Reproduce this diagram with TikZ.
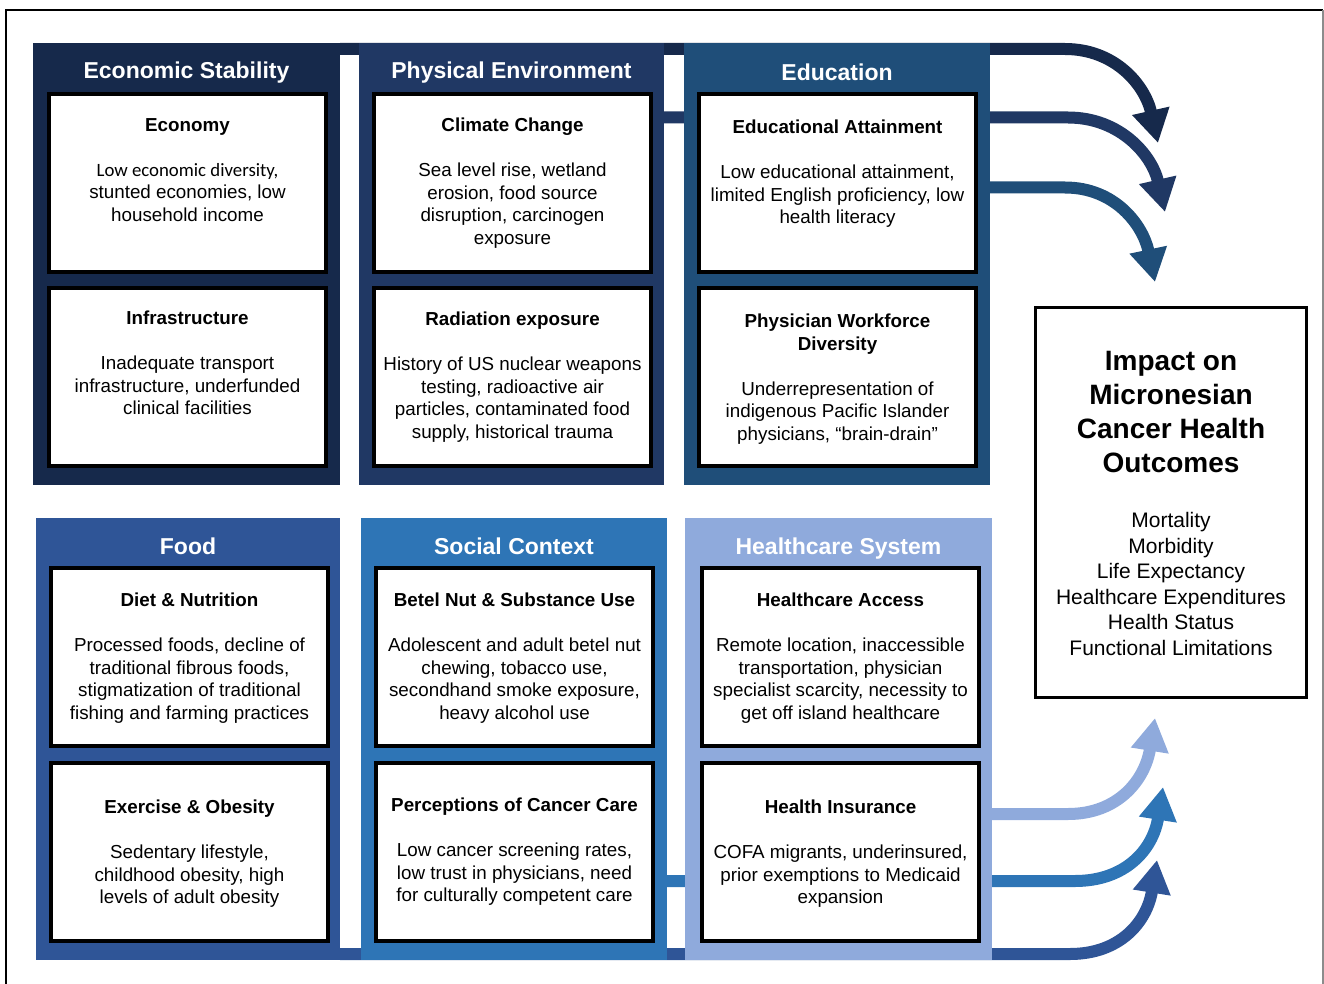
\documentclass[tikz,border=0pt]{standalone}
\usepackage{fontspec}
\setmainfont{Liberation Sans}
\newfontfamily\calib{Carlito}
\usetikzlibrary{arrows.meta,backgrounds}

\definecolor{cEcon}{HTML}{16294B}
\definecolor{cPhys}{HTML}{203864}
\definecolor{cEdu}{HTML}{1F4E79}
\definecolor{cFood}{HTML}{2F5597}
\definecolor{cSoc}{HTML}{2E75B6}
\definecolor{cHC}{HTML}{8FAADC}

\begin{document}
\begin{tikzpicture}[x=1pt,y=-1pt,
  panel/.style={anchor=north west, inner sep=0pt, outer sep=0pt, draw=none,
                minimum width=307pt, minimum height=442pt},
  inbox/.style={anchor=north west, draw=black, line width=4pt, fill=white,
                inner sep=0pt, outer sep=0pt, minimum width=277pt, minimum height=178pt},
  ptitle/.style={anchor=north, inner sep=0pt, text=white,
                 font=\fontsize{23}{27}\selectfont\bfseries},
  txt/.style={anchor=north, inner sep=0pt, align=center,
              font=\fontsize{18.8}{22.5}\selectfont},
  bar/.style={line width=12pt, -{Triangle[width=36pt,length=33pt]}},
  frame/.style={line width=2.2pt, black}
]
\useasboundingbox (0,0) rectangle (1324,984);

% outer frame
\coordinate (fbl) at (6,984);
\coordinate (ftl) at (6,10);
\coordinate (ftr) at (1323,10);
\coordinate (fbr) at (1323,984);
\draw[frame] (fbl) -- (ftl) -- (ftr);
\draw[line width=1.5pt, black!45] (ftr) -- (fbr);

% category panels
\node[panel, fill=cEcon] (econ) at (33,43) {};
\node[panel, fill=cPhys, minimum width=305pt] (phys) at (359,43) {};
\node[panel, fill=cEdu, minimum width=306pt] (edu) at (684,43) {};
\node[panel, fill=cFood, minimum width=304pt] (food) at (36,518) {};
\node[panel, fill=cSoc, minimum width=306pt] (soc) at (361,518) {};
\node[panel, fill=cHC] (hc) at (685,518) {};

% arrow tips
\coordinate (t1) at (1158,143);
\coordinate (t2) at (1165,212);
\coordinate (t3) at (1155,282);
\coordinate (t4) at (1155,718);
\coordinate (t5) at (1163,787);
\coordinate (t6) at (1157,860);

% arrow starts on the panel edges
\coordinate (s1) at ([yshift=-6pt]econ.north east);
\coordinate (s2) at ([yshift=-74.5pt]phys.north east);
\coordinate (s3) at ([yshift=-144.5pt]edu.north east);
\coordinate (s4) at ([yshift=-296pt]hc.north east);
\coordinate (s5) at ([yshift=-363pt]soc.north east);
\coordinate (s6) at ([yshift=-436pt]food.north east);

% connectors run behind the panels
\begin{scope}[on background layer]
\draw[bar, cEcon] (s1) -- (1065,49) .. controls (1115,49) and (1145,85) .. (t1);
\draw[bar, cPhys] (s2) -- (1068,117.5) .. controls (1120,117.5) and (1152,155) .. (t2);
\draw[bar, cEdu]  (s3) -- (1065,187.5) .. controls (1115,187.5) and (1143,225) .. (t3);
\draw[bar, cHC]   (s4) -- (1068,814) .. controls (1118,814) and (1145,780) .. (t4);
\draw[bar, cSoc]  (s5) -- (1075,881) .. controls (1125,881) and (1153,850) .. (t5);
\draw[bar, cFood] (s6) -- (1070,954) .. controls (1120,954) and (1147,922) .. (t6);
\end{scope}

% panel titles
\node[ptitle] (econT) at ([yshift=-19pt]econ.north) {Economic Stability};
\node[ptitle] (physT) at ([yshift=-19pt]phys.north) {Physical Environment};
\node[ptitle] (eduT)  at ([yshift=-21pt]edu.north)  {Education};
\node[ptitle] (foodT) at ([yshift=-19.5pt]food.north) {Food};
\node[ptitle] (socT)  at ([yshift=-19.5pt]soc.north)  {Social Context};
\node[ptitle] (hcT)   at ([yshift=-19.5pt]hc.north)   {Healthcare System};

% factor boxes
\node[inbox] (economy)   at (49,94)   {};
\node[inbox] (infra)     at (49,288)  {};
\node[inbox] (climate)   at (374,94)  {};
\node[inbox] (radiation) at (374,288) {};
\node[inbox] (eduatt)    at (699,94)  {};
\node[inbox] (physician) at (699,288) {};
\node[inbox] (diet)      at (51,568)  {};
\node[inbox] (exercise)  at (51,763)  {};
\node[inbox] (betel)     at (376,568) {};
\node[inbox] (percep)    at (376,763) {};
\node[inbox] (access)    at (702,568) {};
\node[inbox] (insurance) at (702,763) {};

% factor texts
\node[txt] (economyT) at ([yshift=-24pt]economy.north)
  {\textbf{Economy}\\[22.5pt]{\calib Low economic diversity,}\\stunted economies, low\\household income};
\node[txt] (infraT) at ([yshift=-23pt]infra.north)
  {\textbf{Infrastructure}\\[22.5pt]Inadequate transport\\infrastructure, underfunded\\clinical facilities};
\node[txt] (climateT) at ([yshift=-24pt]climate.north)
  {\textbf{Climate Change}\\[22.5pt]Sea level rise, wetland\\erosion, food source\\disruption, carcinogen\\exposure};
\node[txt] (radiationT) at ([yshift=-24pt]radiation.north)
  {\textbf{Radiation exposure}\\[22.5pt]History of US nuclear weapons\\testing, radioactive air\\particles, contaminated food\\supply, historical trauma};
\node[txt] (eduattT) at ([yshift=-26pt]eduatt.north)
  {\textbf{Educational Attainment}\\[22.5pt]Low educational attainment,\\limited English proficiency, low\\health literacy};
\node[txt] (physicianT) at ([yshift=-26pt]physician.north)
  {\textbf{Physician Workforce}\\\textbf{Diversity}\\[22.5pt]Underrepresentation of\\indigenous Pacific Islander\\physicians, “brain-drain”};
\node[txt] (dietT) at ([yshift=-25pt]diet.north)
  {\textbf{Diet \& Nutrition}\\[22.5pt]Processed foods, decline of\\traditional fibrous foods,\\stigmatization of traditional\\fishing and farming practices};
\node[txt] (exerciseT) at ([yshift=-37pt]exercise.north)
  {\textbf{Exercise \& Obesity}\\[22.5pt]Sedentary lifestyle,\\childhood obesity, high\\levels of adult obesity};
\node[txt] (betelT) at ([yshift=-25pt]betel.north)
  {\textbf{Betel Nut \& Substance Use}\\[22.5pt]Adolescent and adult betel nut\\chewing, tobacco use,\\secondhand smoke exposure,\\heavy alcohol use};
\node[txt] (percepT) at ([yshift=-35pt]percep.north)
  {\textbf{Perceptions of Cancer Care}\\[22.5pt]Low cancer screening rates,\\low trust in physicians, need\\for culturally competent care};
\node[txt] (accessT) at ([yshift=-25pt]access.north)
  {\textbf{Healthcare Access}\\[22.5pt]Remote location, inaccessible\\transportation, physician\\specialist scarcity, necessity to\\get off island healthcare};
\node[txt] (insuranceT) at ([yshift=-37pt]insurance.north)
  {\textbf{Health Insurance}\\[22.5pt]COFA migrants, underinsured,\\prior exemptions to Medicaid\\expansion};

% outcome box
\node[draw=black, line width=3pt, fill=white, inner sep=0pt,
      minimum width=271pt, minimum height=390pt] (out) at (1171,502.5) {};
\node[anchor=north, inner sep=0pt, align=center,
      font=\fontsize{28}{34}\selectfont\bfseries] (outT) at (1171,351)
  {Impact on\\Micronesian\\Cancer Health\\Outcomes};
\node[anchor=north, inner sep=0pt, align=center,
      font=\fontsize{21}{25.5}\selectfont] (outL) at (1171,512.5)
  {Mortality\\Morbidity\\Life Expectancy\\Healthcare Expenditures\\Health Status\\Functional Limitations};
\end{tikzpicture}
\end{document}
